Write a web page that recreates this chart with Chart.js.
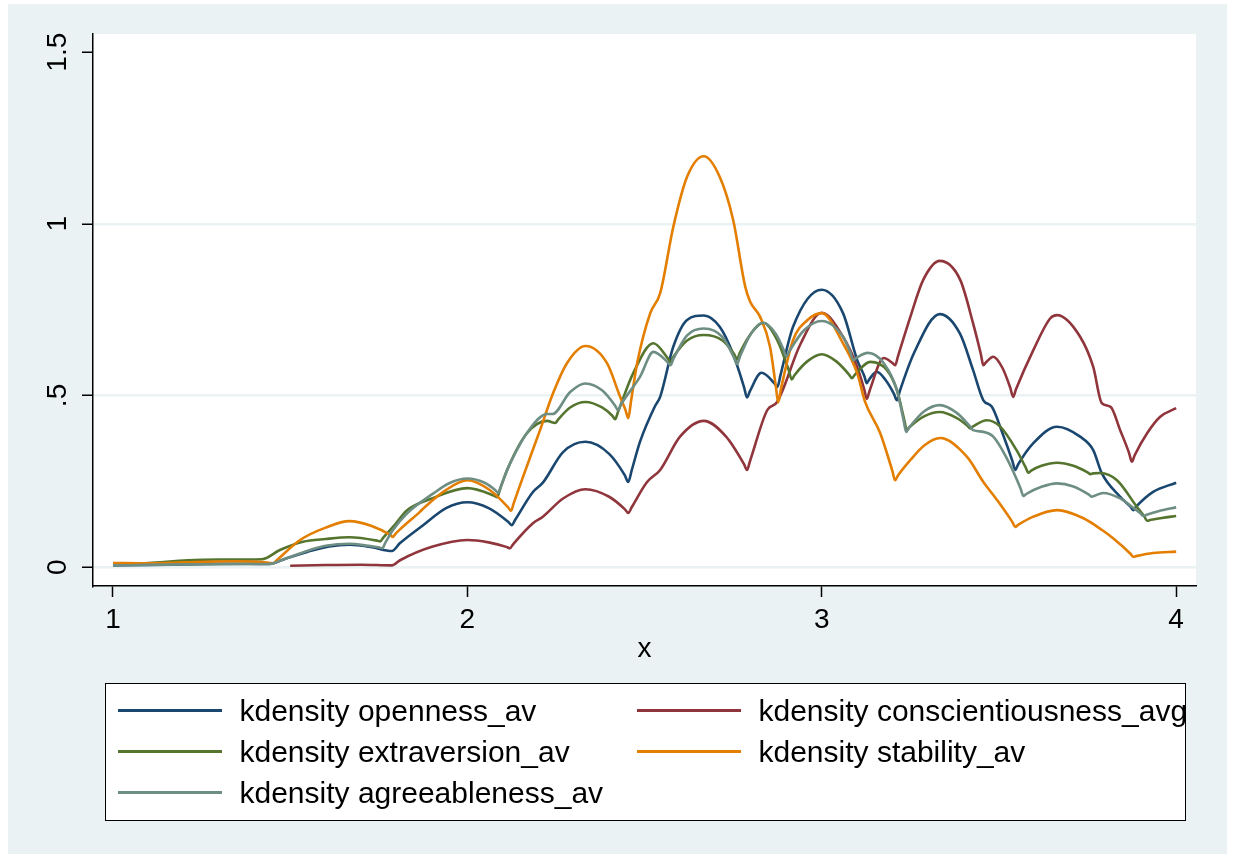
<!DOCTYPE html>
<html lang="en">
<head>
  <meta charset="UTF-8" />
  <title>kdensity</title>
  <script src="https://cdn.jsdelivr.net/npm/chart.js"></script>
  <style>
    body {
      margin: 0;
      background: #fff;
      font-family: 'Liberation Sans', Arial, sans-serif;
    }

    .pagina {
      position: relative;
      width: 1234px;
      height: 856px;
    }

    .fundo {
      position: absolute;
      left: 8px;
      top: 4px;
      width: 1219px;
      height: 850px;
      background: #eaf2f3;
    }

    canvas {
      position: absolute;
      left: 0;
      top: 0;
    }

    .legenda {
      position: absolute;
      left: 105px;
      top: 683px;
      width: 1079px;
      height: 136px;
      border: 1.5px solid #000;
      background: #fff;
    }

    .item {
      position: absolute;
      height: 34px;
      display: flex;
      align-items: center;
      font-size: 30px;
      white-space: nowrap;
      color: #000;
    }

    .item .linha {
      display: inline-block;
      width: 104px;
      height: 3px;
      margin-right: 18px;
    }
  </style>
</head>
<body>
  <div class="pagina">
    <div class="fundo"></div>
    <canvas id="grafico" width="1234" height="856"></canvas>
    <div class="legenda" id="legenda"></div>
  </div>

  <script>
    const xTicks = [1, 2, 3, 4];
    const yTicks = [0, 0.5, 1, 1.5];
    const yTickLabels = ["0", ".5", "1", "1.5"];
    const nomes = [
      "kdensity openness_av",
      "kdensity conscientiousness_avg",
      "kdensity extraversion_av",
      "kdensity stability_av",
      "kdensity agreeableness_av"
    ];

    // [x, densidade]
    const openness = [
      [1.00, 0.005], [1.10, 0.006], [1.20, 0.008], [1.30, 0.010], [1.38, 0.010], [1.44, 0.009],
      [1.49, 0.026], [1.55, 0.045], [1.61, 0.060], [1.667, 0.065], [1.73, 0.058], [1.787, 0.047],
      [1.81, 0.070], [1.875, 0.122], [1.94, 0.172], [2.00, 0.189], [2.06, 0.172], [2.115, 0.132],
      [2.125, 0.122], [2.135, 0.138], [2.185, 0.219], [2.213, 0.246], [2.27, 0.335], [2.333, 0.365],
      [2.40, 0.330], [2.444, 0.268], [2.454, 0.248], [2.464, 0.283], [2.487, 0.365], [2.53, 0.470],
      [2.544, 0.496], [2.581, 0.642], [2.62, 0.720], [2.667, 0.733], [2.712, 0.700], [2.75, 0.620],
      [2.781, 0.523], [2.789, 0.494], [2.797, 0.512], [2.83, 0.566], [2.867, 0.535], [2.875, 0.525],
      [2.883, 0.557], [2.919, 0.700], [3.00, 0.808], [3.06, 0.740], [3.10, 0.603], [3.12, 0.557],
      [3.127, 0.536], [3.134, 0.547], [3.155, 0.569], [3.18, 0.545], [3.204, 0.504], [3.212, 0.486],
      [3.22, 0.512], [3.26, 0.623], [3.333, 0.737], [3.39, 0.680], [3.427, 0.574], [3.456, 0.486],
      [3.48, 0.467], [3.51, 0.390], [3.538, 0.309], [3.546, 0.283], [3.554, 0.299], [3.597, 0.361],
      [3.664, 0.409], [3.729, 0.380], [3.766, 0.341], [3.79, 0.274], [3.842, 0.205], [3.871, 0.176],
      [3.879, 0.166], [3.887, 0.176], [3.935, 0.219], [4.00, 0.246]
    ];

    const conscientiousness = [
      [1.50, 0.004], [1.60, 0.006], [1.70, 0.007], [1.787, 0.005], [1.81, 0.020], [1.90, 0.059],
      [2.00, 0.079], [2.06, 0.072], [2.11, 0.059], [2.12, 0.055], [2.13, 0.068], [2.185, 0.128],
      [2.213, 0.147], [2.27, 0.200], [2.333, 0.227], [2.40, 0.205], [2.444, 0.169], [2.454, 0.158],
      [2.464, 0.175], [2.507, 0.248], [2.544, 0.283], [2.60, 0.380], [2.667, 0.426], [2.73, 0.380],
      [2.781, 0.299], [2.789, 0.283], [2.797, 0.307], [2.846, 0.457], [2.874, 0.481], [2.94, 0.650],
      [3.00, 0.741], [3.06, 0.671], [3.10, 0.583], [3.12, 0.517], [3.127, 0.490], [3.135, 0.514],
      [3.175, 0.609], [3.199, 0.595], [3.207, 0.588], [3.215, 0.614], [3.25, 0.729], [3.286, 0.836],
      [3.333, 0.892], [3.391, 0.836], [3.427, 0.710], [3.449, 0.620], [3.456, 0.588], [3.463, 0.596],
      [3.484, 0.613], [3.51, 0.580], [3.532, 0.522], [3.54, 0.496], [3.548, 0.518], [3.597, 0.632],
      [3.645, 0.725], [3.664, 0.734], [3.729, 0.671], [3.766, 0.583], [3.79, 0.478], [3.815, 0.467],
      [3.842, 0.399], [3.867, 0.333], [3.875, 0.307], [3.883, 0.326], [3.918, 0.390], [3.955, 0.438],
      [4.00, 0.463]
    ];

    const extraversion = [
      [1.00, 0.008], [1.10, 0.012], [1.21, 0.020], [1.30, 0.022], [1.42, 0.023], [1.471, 0.050],
      [1.536, 0.074], [1.60, 0.082], [1.667, 0.087], [1.746, 0.077], [1.754, 0.075], [1.762, 0.085],
      [1.79, 0.117], [1.83, 0.166], [1.90, 0.200], [2.00, 0.230], [2.076, 0.208], [2.084, 0.204],
      [2.092, 0.226], [2.112, 0.283], [2.168, 0.390], [2.225, 0.426], [2.248, 0.420], [2.256, 0.430],
      [2.29, 0.465], [2.333, 0.481], [2.38, 0.465], [2.409, 0.441], [2.417, 0.431], [2.425, 0.452],
      [2.468, 0.565], [2.525, 0.652], [2.565, 0.609], [2.573, 0.598], [2.581, 0.612], [2.62, 0.660],
      [2.667, 0.676], [2.72, 0.660], [2.753, 0.620], [2.761, 0.606], [2.769, 0.625], [2.80, 0.680],
      [2.835, 0.712], [2.875, 0.660], [2.907, 0.573], [2.915, 0.547], [2.923, 0.559], [2.96, 0.600],
      [3.00, 0.620], [3.04, 0.600], [3.077, 0.561], [3.085, 0.550], [3.093, 0.560], [3.137, 0.598],
      [3.184, 0.574], [3.212, 0.516], [3.233, 0.428], [3.24, 0.399], [3.248, 0.408], [3.29, 0.440],
      [3.333, 0.452], [3.38, 0.435], [3.411, 0.412], [3.419, 0.404], [3.427, 0.410], [3.466, 0.428],
      [3.503, 0.410], [3.55, 0.340], [3.575, 0.291], [3.583, 0.275], [3.591, 0.281], [3.62, 0.295],
      [3.664, 0.304], [3.71, 0.295], [3.75, 0.276], [3.758, 0.271], [3.766, 0.273], [3.786, 0.274],
      [3.833, 0.253], [3.889, 0.176], [3.91, 0.148], [3.918, 0.135], [3.926, 0.137], [3.96, 0.143],
      [4.00, 0.149]
    ];

    const stability = [
      [1.00, 0.012], [1.10, 0.011], [1.20, 0.014], [1.34, 0.017], [1.42, 0.015], [1.452, 0.011],
      [1.46, 0.018], [1.528, 0.079], [1.60, 0.115], [1.667, 0.134], [1.73, 0.120], [1.782, 0.094],
      [1.79, 0.088], [1.797, 0.097], [1.81, 0.110], [1.866, 0.161], [1.881, 0.176], [1.94, 0.225],
      [2.00, 0.253], [2.064, 0.224], [2.115, 0.174], [2.123, 0.164], [2.131, 0.187], [2.157, 0.263],
      [2.205, 0.399], [2.242, 0.507], [2.281, 0.594], [2.333, 0.644], [2.394, 0.594], [2.431, 0.496],
      [2.446, 0.458], [2.454, 0.434], [2.462, 0.485], [2.479, 0.594], [2.516, 0.740], [2.544, 0.798],
      [2.581, 0.991], [2.62, 1.137], [2.667, 1.197], [2.712, 1.137], [2.75, 1.011], [2.784, 0.817],
      [2.798, 0.773], [2.826, 0.729], [2.854, 0.642], [2.871, 0.522], [2.877, 0.480], [2.885, 0.520],
      [2.919, 0.661], [2.96, 0.720], [3.00, 0.740], [3.06, 0.652], [3.10, 0.565], [3.122, 0.482],
      [3.165, 0.390], [3.199, 0.281], [3.207, 0.253], [3.215, 0.267], [3.25, 0.312], [3.29, 0.355],
      [3.334, 0.376], [3.41, 0.321], [3.456, 0.248], [3.495, 0.195], [3.538, 0.131], [3.546, 0.117],
      [3.554, 0.123], [3.597, 0.147], [3.664, 0.166], [3.737, 0.143], [3.791, 0.108], [3.822, 0.084],
      [3.871, 0.039], [3.879, 0.030], [3.887, 0.032], [3.935, 0.041], [4.00, 0.045]
    ];

    const agreeableness = [
      [1.00, 0.005], [1.20, 0.008], [1.44, 0.009], [1.48, 0.022], [1.55, 0.048], [1.60, 0.062],
      [1.667, 0.068], [1.72, 0.062], [1.752, 0.057], [1.76, 0.055], [1.768, 0.070], [1.79, 0.108],
      [1.83, 0.157], [1.903, 0.214], [1.95, 0.245], [2.00, 0.258], [2.05, 0.245], [2.079, 0.224],
      [2.087, 0.216], [2.095, 0.237], [2.121, 0.303], [2.177, 0.404], [2.225, 0.446], [2.24, 0.446],
      [2.29, 0.510], [2.333, 0.535], [2.38, 0.515], [2.417, 0.470], [2.425, 0.457], [2.433, 0.473],
      [2.487, 0.554], [2.525, 0.627], [2.565, 0.597], [2.573, 0.588], [2.581, 0.606], [2.62, 0.675],
      [2.667, 0.695], [2.72, 0.670], [2.753, 0.609], [2.761, 0.591], [2.769, 0.613], [2.80, 0.680],
      [2.835, 0.712], [2.87, 0.680], [2.892, 0.634], [2.90, 0.613], [2.908, 0.628], [2.95, 0.690],
      [3.00, 0.717], [3.06, 0.671], [3.081, 0.625], [3.089, 0.603], [3.097, 0.609], [3.13, 0.624],
      [3.175, 0.594], [3.212, 0.516], [3.231, 0.427], [3.238, 0.394], [3.246, 0.406], [3.29, 0.455],
      [3.333, 0.472], [3.38, 0.450], [3.419, 0.409], [3.427, 0.399], [3.456, 0.394], [3.484, 0.380],
      [3.52, 0.321], [3.561, 0.229], [3.569, 0.207], [3.577, 0.213], [3.62, 0.234], [3.664, 0.244],
      [3.71, 0.235], [3.754, 0.211], [3.762, 0.205], [3.77, 0.208], [3.794, 0.216], [3.842, 0.200],
      [3.875, 0.176], [3.899, 0.157], [3.907, 0.149], [3.915, 0.152], [3.95, 0.163], [4.00, 0.174]
    ];

    const series = [openness, conscientiousness, extraversion, stability, agreeableness];
    const cores = ["#1a476f", "#90353b", "#55752f", "#e37e00", "#6e8e84"];
    const fonte = "'Liberation Sans', Arial, sans-serif";

    // fundo branco da area do grafico
    const fundoPlot = {
      id: "fundoPlot",
      beforeDraw(chart) {
        const { ctx, chartArea: a } = chart;
        ctx.save();
        ctx.fillStyle = "#fff";
        ctx.fillRect(a.left, a.top, a.right - a.left, a.bottom - a.top);
        ctx.restore();
      }
    };

    new Chart(document.getElementById("grafico"), {
      type: "line",
      data: {
        datasets: series.map((s, i) => ({
          label: nomes[i],
          data: s.map(([x, y]) => ({ x, y })),
          borderColor: cores[i],
          borderWidth: 2.6,
          pointRadius: 0,
          fill: false,
          cubicInterpolationMode: "monotone",
          order: series.length - i
        }))
      },
      options: {
        responsive: false,
        animation: false,
        devicePixelRatio: 1,
        layout: { padding: { left: 0, top: 34, right: 38, bottom: 0 } },
        plugins: {
          legend: { display: false },
          tooltip: { enabled: false }
        },
        scales: {
          x: {
            type: "linear",
            min: 0.9436,
            max: 4.056,
            afterBuildTicks: s => { s.ticks = xTicks.map(v => ({ value: v })); },
            afterFit: s => { s.height = 270; },
            grid: {
              display: true,
              drawOnChartArea: false,
              drawTicks: true,
              tickLength: 11,
              tickColor: "#000",
              tickWidth: 1.5
            },
            border: { display: true, color: "#000", width: 1.5 },
            ticks: {
              color: "#000",
              font: { family: fonte, size: 28 },
              padding: 6,
              maxRotation: 0,
              autoSkip: false,
              callback: v => String(v)
            },
            title: {
              display: true,
              text: "x",
              color: "#000",
              font: { family: fonte, size: 28 },
              padding: { top: 0, bottom: 190 }
            }
          },
          y: {
            type: "linear",
            min: -0.055,
            max: 1.553,
            afterBuildTicks: s => { s.ticks = yTicks.map(v => ({ value: v })); },
            afterFit: s => { s.width = 93; },
            grid: {
              color: c => (c.tick && c.tick.value === 1.5 ? "rgba(0,0,0,0)" : "#eaf2f3"),
              lineWidth: 2.5,
              drawTicks: true,
              tickLength: 11,
              tickColor: "#000",
              tickWidth: 1.5
            },
            border: { display: true, color: "#000", width: 1.5 },
            ticks: {
              color: "#000",
              font: { family: fonte, size: 28 },
              padding: 4,
              minRotation: 90,
              maxRotation: 90,
              crossAlign: "center",
              autoSkip: false,
              callback: (v, i) => yTickLabels[i]
            }
          }
        }
      },
      plugins: [fundoPlot]
    });

    // legenda em duas colunas
    const legenda = document.getElementById("legenda");
    nomes.forEach((nome, i) => {
      const col = i % 2;
      const lin = Math.floor(i / 2);
      const item = document.createElement("div");
      item.className = "item";
      item.style.left = (118 + col * 519 - 106.5) + "px";
      item.style.top = (711 + lin * 41 - 684.5 - 17) + "px";
      const linha = document.createElement("span");
      linha.className = "linha";
      linha.style.background = cores[i];
      const texto = document.createElement("span");
      texto.textContent = nome;
      item.appendChild(linha);
      item.appendChild(texto);
      legenda.appendChild(item);
    });
  </script>
</body>
</html>
